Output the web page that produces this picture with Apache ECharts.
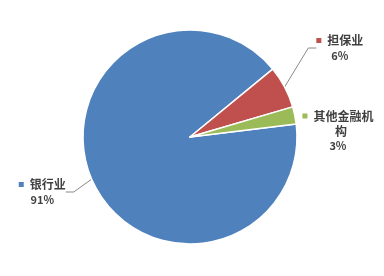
<!DOCTYPE html>
<html><head><meta charset="utf-8">
<script src="https://cdn.jsdelivr.net/npm/echarts@6/dist/echarts.min.js"></script>
<style>html,body{margin:0;padding:0;background:#fff}#c{width:384px;height:276px}</style>
</head><body><div id="c"></div>
<script>
var categories = ['银行业', '担保业', '其他金融机构'];
var values = [91.0, 6.4, 2.6];
var percentLabels = ['91%', '6%', '3%'];
var colors = ['#4F81BD', '#C0504D', '#9BBB59'];

var chart = echarts.init(document.getElementById('c'), null, {renderer: 'canvas'});
var data = categories.map(function (c, i) {
  return {name: c, value: values[i], itemStyle: {color: colors[i]}, labelLine: {show: i !== 2}};
});
function wrap(name) {
  var out = [];
  for (var i = 0; i < name.length; i += 5) out.push(name.slice(i, i + 5));
  return out;
}
chart.setOption({
  animation: false,
  series: [{
    type: 'pie',
    center: [190, 137],
    radius: 107,
    startAngle: 7,
    clockwise: true,
    data: data,
    itemStyle: {borderColor: '#fff', borderWidth: 1.5},
    label: {
      show: true,
      position: 'outside',
      overflow: 'none',
      fontFamily: 'Noto Sans CJK SC',
      color: '#404040',
      align: 'center',
      lineHeight: 15,
      formatter: function (p) {
        var lines = wrap(p.name);
        var s = '{m' + p.dataIndex + '|}{n|' + lines[0] + '}';
        for (var k = 1; k < lines.length; k++) s += '\n{n|' + lines[k] + '}';
        s += '\n{p|' + percentLabels[p.dataIndex] + '}';
        return s;
      },
      rich: {
        m0: {width: 5, height: 5, backgroundColor: colors[0]},
        m1: {width: 5, height: 5, backgroundColor: colors[1]},
        m2: {width: 5, height: 5, backgroundColor: colors[2]},
        n: {fontSize: 12, fontWeight: 'bold', color: '#404040', padding: [0, 0, 0, 6], fontFamily: 'Noto Sans CJK SC'},
        p: {fontSize: 11, fontWeight: 'bold', color: '#404040', fontFamily: 'Noto Sans CJK SC'}
      }
    },
    labelLine: {show: true, length: 22, length2: 8, lineStyle: {color: '#888', width: 1}},
    labelLayout: function (params) {
      var i = params.dataIndex;
      var w = chart.getWidth();
      var pos = [[w * 0.11, 192], [w * 0.885, 48], [w * 0.88, 131]];
      return {x: pos[i][0], y: pos[i][1], align: 'center', verticalAlign: 'middle'};
    }
  }]
});
</script></body></html>
